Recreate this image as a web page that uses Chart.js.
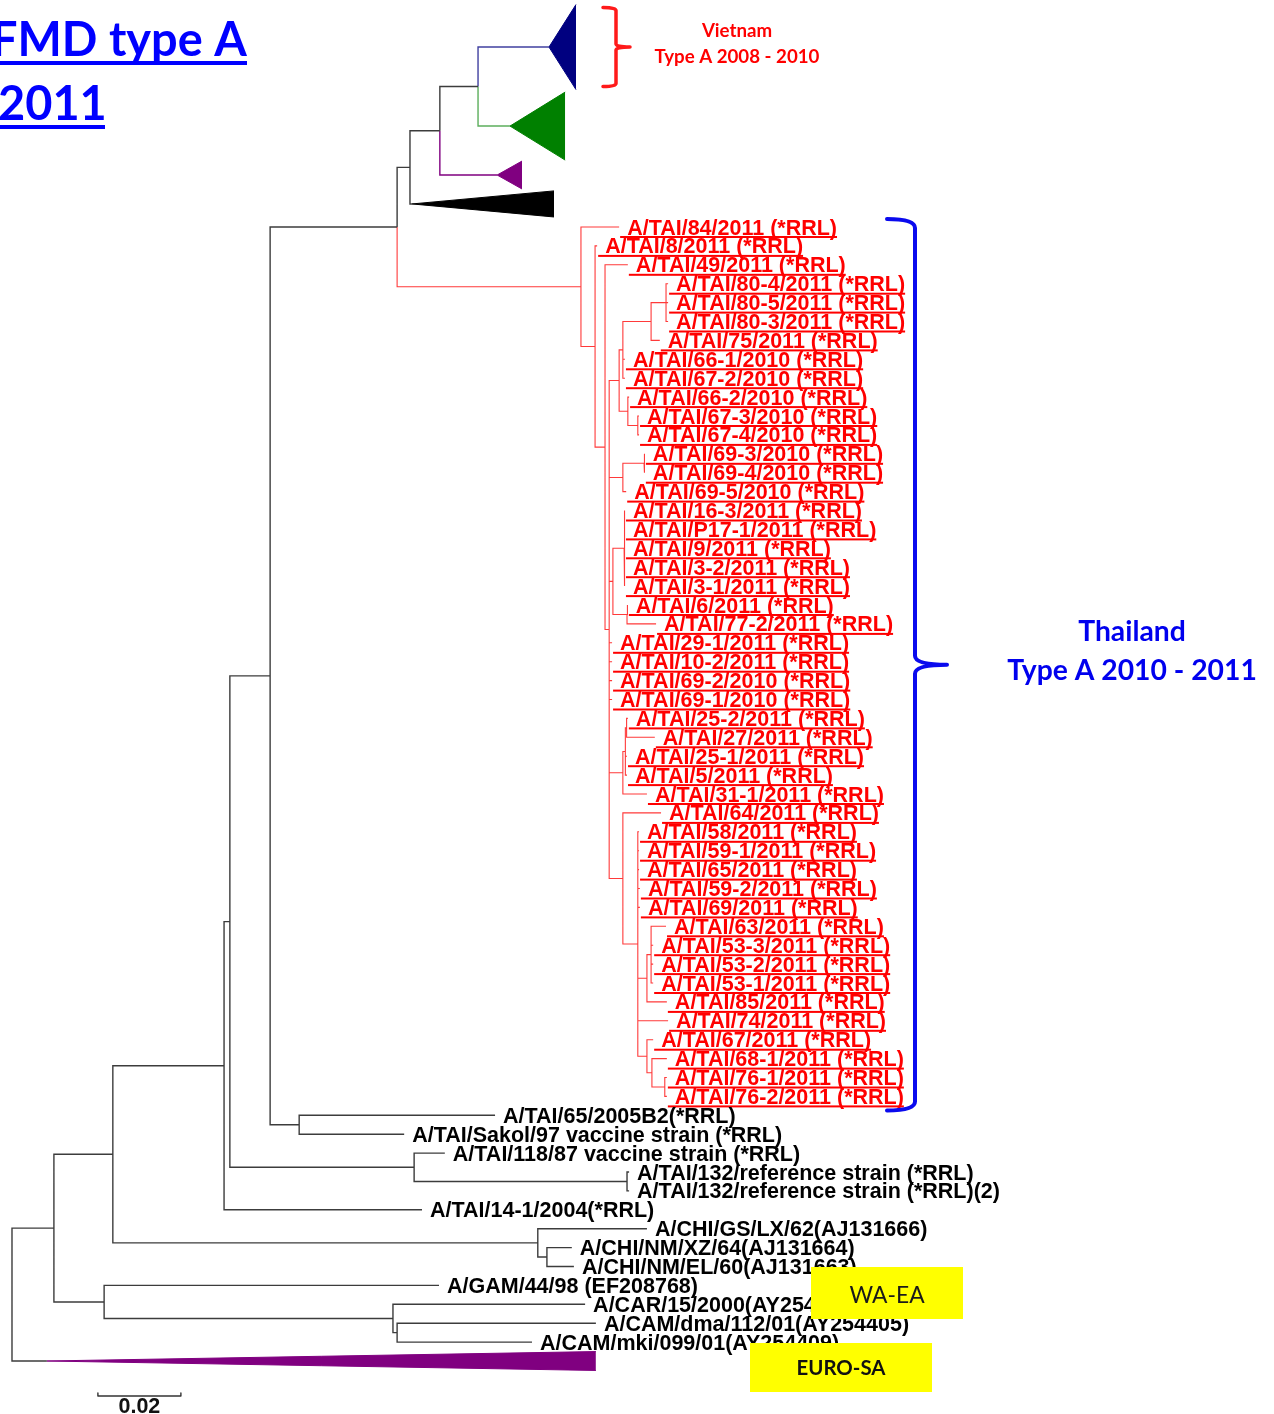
<!DOCTYPE html>
<html>
<head>
<meta charset="utf-8">
<script src="https://cdn.jsdelivr.net/npm/chart.js@4.4.1/dist/chart.umd.min.js"></script>
<style>
html,body{margin:0;padding:0;background:#fff;}
#quadro{width:1274px;height:1414px;position:relative;}
</style>
</head>
<body>
<div id="quadro"><canvas id="arvore"></canvas></div>
<script>
// taxa in the order they are drawn, top to bottom (row = index + 1)
const tipNames = [
'A/TAI/84/2011 (*RRL)','A/TAI/8/2011 (*RRL)','A/TAI/49/2011 (*RRL)','A/TAI/80-4/2011 (*RRL)',
'A/TAI/80-5/2011 (*RRL)','A/TAI/80-3/2011 (*RRL)','A/TAI/75/2011 (*RRL)','A/TAI/66-1/2010 (*RRL)',
'A/TAI/67-2/2010 (*RRL)','A/TAI/66-2/2010 (*RRL)','A/TAI/67-3/2010 (*RRL)','A/TAI/67-4/2010 (*RRL)',
'A/TAI/69-3/2010 (*RRL)','A/TAI/69-4/2010 (*RRL)','A/TAI/69-5/2010 (*RRL)','A/TAI/16-3/2011 (*RRL)',
'A/TAI/P17-1/2011 (*RRL)','A/TAI/9/2011 (*RRL)','A/TAI/3-2/2011 (*RRL)','A/TAI/3-1/2011 (*RRL)',
'A/TAI/6/2011 (*RRL)','A/TAI/77-2/2011 (*RRL)','A/TAI/29-1/2011 (*RRL)','A/TAI/10-2/2011 (*RRL)',
'A/TAI/69-2/2010 (*RRL)','A/TAI/69-1/2010 (*RRL)','A/TAI/25-2/2011 (*RRL)','A/TAI/27/2011 (*RRL)',
'A/TAI/25-1/2011 (*RRL)','A/TAI/5/2011 (*RRL)','A/TAI/31-1/2011 (*RRL)','A/TAI/64/2011 (*RRL)',
'A/TAI/58/2011 (*RRL)','A/TAI/59-1/2011 (*RRL)','A/TAI/65/2011 (*RRL)','A/TAI/59-2/2011 (*RRL)',
'A/TAI/69/2011 (*RRL)','A/TAI/63/2011 (*RRL)','A/TAI/53-3/2011 (*RRL)','A/TAI/53-2/2011 (*RRL)',
'A/TAI/53-1/2011 (*RRL)','A/TAI/85/2011 (*RRL)','A/TAI/74/2011 (*RRL)','A/TAI/67/2011 (*RRL)',
'A/TAI/68-1/2011 (*RRL)','A/TAI/76-1/2011 (*RRL)','A/TAI/76-2/2011 (*RRL)',
'A/TAI/65/2005B2(*RRL)','A/TAI/Sakol/97 vaccine strain (*RRL)','A/TAI/118/87 vaccine strain (*RRL)',
'A/TAI/132/reference strain (*RRL)','A/TAI/132/reference strain (*RRL)(2)','A/TAI/14-1/2004(*RRL)',
'A/CHI/GS/LX/62(AJ131666)','A/CHI/NM/XZ/64(AJ131664)','A/CHI/NM/EL/60(AJ131663)',
'A/GAM/44/98 (EF208768)','A/CAR/15/2000(AY254404)','A/CAM/dma/112/01(AY254405)','A/CAM/mki/099/01(AY254409)'
];

// distance from the root of each taxon (substitutions/site)
const tipDepth = [
0.1463,0.1410,0.1484,0.1581,0.1581,0.1581,0.1561,0.1477,
0.1477,0.1487,0.1511,0.1511,0.1525,0.1525,0.1480,0.1477,
0.1477,0.1477,0.1477,0.1477,0.1484,0.1552,0.1446,0.1446,
0.1446,0.1446,0.1484,0.1549,0.1482,0.1482,0.1530,0.1564,
0.1511,0.1511,0.1511,0.1513,0.1513,0.1576,0.1545,0.1545,
0.1545,0.1578,0.1581,0.1545,0.1578,0.1578,0.1578,
0.1164,0.0945,0.1043,0.1487,0.1487,0.0988,
0.1530,0.1349,0.1354,0.1029,0.1381,0.1407,0.1253
];

// collapsed clades (triangles)
const cladeIds   = ['cV','cG','cP','cK','cE'];
const cladeRow   = [-8.52,-4.34,-1.75,-0.22,61];
const cladeHalf  = [2.25,1.80,0.74,0.69,0.50];
const cladeStart = [0.1294,0.1200,0.1169,0.0964,0.0084];
const cladeEnd   = [0.1359,0.1333,0.1229,0.1306,0.1407];

// internal nodes: id, depth, children
const nodeIds = ['ROOT','B','C','N224','N230','N270','N397','N410','N440','N478',
'N299','N414','N628','CHI','CHI2','D','CAR','CAM',
'R0','R1','R2','R3','Na','Nb','Nd','Ne','Nc','Nf','Ng','Nh','N613','Ni','Nj',
'Nr','Nr1','Nr2','Ns','Nt','Nu','Nv','Nw','Nx','Ny'];
const nodeDepth = [0.0000,0.0101,0.0243,0.0511,0.0525,0.0622,0.0928,0.0959,0.1031,0.1123,
0.0692,0.0969,0.1482,0.1267,0.1289,0.0222,0.0918,0.0928,
0.1371,0.1405,0.1429,0.1439,0.1463,0.1472,0.1540,0.1576,0.1484,0.1508,0.1472,0.1523,0.1448,0.1475,0.1482,
0.1472,0.1478,0.1481,0.1472,0.1508,0.1530,0.1540,0.1530,0.1542,0.1573];
const nodeKids = [
['B','cE'],['C','D'],['N224','CHI'],['N230','t53'],['N270','N414'],['N397','N299'],
['N410','R0'],['N440','cK'],['N478','cP'],['cV','cG'],
['t48','t49'],['t50','N628'],['t51','t52'],['t54','CHI2'],['t55','t56'],
['t57','CAR'],['t58','CAM'],['t59','t60'],
['t1','R1'],['t2','R2'],['t3','R3'],
['Na','Ng','N613','t23','t24','t25','t26','Nr','Ns'],
['Nb','Nc'],['Nd','t8','t9'],['Ne','t7'],['t4','t5','t6'],['t10','Nf'],['t11','t12'],
['Nh','t15'],['t13','t14'],['Ni','Nj'],['t16','t17','t18','t19','t20'],['t21','t22'],
['Nr1','t31'],['Nr2','t29','t30'],['t27','t28'],
['t32','Nt'],['t33','t34','t35','t36','t37','Nu','t43','Nw'],
['Nv','t42'],['t38','t39','t40','t41'],['t44','Nx'],['t45','Ny'],['t46','t47']
];

const scaleBarLength = 0.02;

// ---- estilos
const vermelho = '#ff0000';
const corDe = {R0:'#ff3a3a', cV:'#4040a0', cG:'#5cae5c', cP:'#800080'};
const corPadrao = '#3c3c3c';
const corTriangulo = ['#000080','#008000','#800080','#000000','#800080'];
const fonteRotulo = 'bold 21.5px "Liberation Sans", Arial, sans-serif';

const tipo = id => /^t\d+$/.test(id) ? 'tip' : (/^c[A-Z]$/.test(id) ? 'clade' : 'node');

function linha(id){
  if(tipo(id)==='tip') return +id.slice(1);
  if(tipo(id)==='clade') return cladeRow[cladeIds.indexOf(id)];
  const k = nodeKids[nodeIds.indexOf(id)];
  return (linha(k[0]) + linha(k[k.length-1])) / 2;
}

function profundidade(id){
  if(tipo(id)==='tip') return tipDepth[+id.slice(1)-1];
  if(tipo(id)==='clade') return cladeStart[cladeIds.indexOf(id)];
  return nodeDepth[nodeIds.indexOf(id)];
}

const ramos = {};
const corTip = [];

function percorre(id, cor){
  const xP = profundidade(id);
  const yP = linha(id);
  nodeKids[nodeIds.indexOf(id)].forEach(k => {
    const c = corDe[k] || cor;
    const yK = linha(k), xK = profundidade(k);
    (ramos[c] = ramos[c] || []).push(
      {x:xP, y:yP}, {x:xP, y:yK}, {x:xK, y:yK}, {x:xK, y:null}
    );
    if(tipo(k)==='node') percorre(k, c);
    if(tipo(k)==='tip') corTip[+k.slice(1)-1] = c;
  });
}
percorre('ROOT', corPadrao);

const datasets = [];

Object.keys(ramos).forEach(c => {
  datasets.push({
    data: ramos[c],
    borderColor: c,
    borderWidth: c===corDe.R0 ? 1.1 : 1.4,
    showLine: true,
    spanGaps: false,
    pointRadius: 0,
    fill: false
  });
});

cladeIds.forEach((id, i) => {
  datasets.push({
    data: [{x:cladeStart[i], y:cladeRow[i]}, {x:cladeEnd[i], y:cladeRow[i]-cladeHalf[i]}],
    borderColor: corTriangulo[i], borderWidth: 1,
    showLine: true, pointRadius: 0, fill: false
  });
  datasets.push({
    data: [{x:cladeStart[i], y:cladeRow[i]}, {x:cladeEnd[i], y:cladeRow[i]+cladeHalf[i]}],
    borderColor: corTriangulo[i], borderWidth: 1, backgroundColor: corTriangulo[i],
    showLine: true, pointRadius: 0, fill: '-1'
  });
});

function ajusta(ctx, texto, peso, familia, largura){
  ctx.font = peso + ' 100px ' + familia;
  return 100 * largura / ctx.measureText(texto).width;
}

function chave(ctx, x, topo, base, braco, bico, r, cor, larg){
  const meio = (topo + base) / 2;
  ctx.beginPath();
  ctx.moveTo(x - braco, topo);
  ctx.quadraticCurveTo(x, topo, x, topo + r);
  ctx.lineTo(x, meio - r);
  ctx.quadraticCurveTo(x, meio, x + bico, meio);
  ctx.quadraticCurveTo(x, meio, x, meio + r);
  ctx.lineTo(x, base - r);
  ctx.quadraticCurveTo(x, base, x - braco, base);
  ctx.strokeStyle = cor;
  ctx.lineWidth = larg;
  ctx.lineCap = 'round';
  ctx.lineJoin = 'round';
  ctx.stroke();
}

function textoCentro(ctx, texto, cx, y, peso, familia, largura, cor){
  const tam = ajusta(ctx, texto, peso, familia, largura);
  ctx.font = peso + ' ' + tam.toFixed(1) + 'px ' + familia;
  ctx.fillStyle = cor;
  ctx.textAlign = 'center';
  ctx.fillText(texto, cx, y);
  return tam;
}

const rotulos = {
  id: 'rotulos',
  afterDatasetsDraw(chart){
    const {ctx, scales:{x, y}} = chart;
    ctx.save();
    ctx.textBaseline = 'alphabetic';
    ctx.textAlign = 'left';
    ctx.font = fonteRotulo;

    tipNames.forEach((nome, i) => {
      const px = x.getPixelForValue(tipDepth[i]);
      const py = y.getPixelForValue(i + 1);
      const red = corTip[i] === corDe.R0;
      ctx.fillStyle = red ? vermelho : '#000';
      ctx.fillText(nome, px + 8, py + 7.5);
      if(red){
        const w = ctx.measureText(nome).width;
        ctx.fillRect(px + 1, py + 9, w + 7, 2);
      }
    });

    // chaves
    const topoTH = y.getPixelForValue(1) - 8;
    const baseTH = y.getPixelForValue(47) + 14;
    chave(ctx, 915, topoTH, baseTH, 28, 32, 9, '#0a0aee', 4);
    const iv = cladeIds.indexOf('cV');
    const topoVN = y.getPixelForValue(cladeRow[iv] - cladeHalf[iv]) + 3;
    const baseVN = y.getPixelForValue(cladeRow[iv] + cladeHalf[iv]) - 3;
    chave(ctx, 616, topoVN, baseVN, 13, 14, 3, '#ff1a1a', 3.5);

    ctx.textBaseline = 'alphabetic';
    const fam = 'Lato, "Open Sans", sans-serif';
    // Vietnam
    const tv = textoCentro(ctx, 'Type A 2008 - 2010', 737, 63, 'bold', fam, 165, vermelho);
    ctx.font = 'bold ' + tv.toFixed(1) + 'px ' + fam;
    ctx.fillText('Vietnam', 737, 37);
    // Thailand
    const tt = textoCentro(ctx, 'Type A 2010 - 2011', 1132, 680, 'bold', fam, 250, '#0000ee');
    ctx.font = 'bold ' + tt.toFixed(1) + 'px ' + fam;
    ctx.fillText('Thailand', 1132, 641);

    // titulo
    const tamT = ajusta(ctx, 'FMD type A', 'bold', fam, 256);
    ctx.font = 'bold ' + tamT.toFixed(1) + 'px ' + fam;
    ctx.textAlign = 'left';
    ctx.fillStyle = '#0000ff';
    ctx.fillText('FMD type A', -9, 56);
    ctx.fillText('2011', -2, 120);
    ctx.fillRect(0, 61, 247, 4);
    ctx.fillRect(0, 125, 105, 4);

    // caixas amarelas
    ctx.fillStyle = '#ffff00';
    ctx.fillRect(811, 1267, 152, 52);
    ctx.fillRect(750, 1343, 182, 49);
    textoCentro(ctx, 'WA-EA', 887, 1303, 'normal', fam, 75, '#1a1a1a');
    textoCentro(ctx, 'EURO-SA', 841, 1375, 'bold', fam, 89, '#111');

    // barra de escala
    const x0 = x.getPixelForValue(0.0207);
    const x1 = x.getPixelForValue(0.0207 + scaleBarLength);
    const yb = y.getPixelForValue(62.85);
    ctx.strokeStyle = '#333';
    ctx.lineWidth = 1.4;
    ctx.beginPath();
    ctx.moveTo(x0, yb - 3); ctx.lineTo(x0, yb); ctx.lineTo(x1, yb); ctx.lineTo(x1, yb - 3);
    ctx.stroke();
    ctx.font = fonteRotulo;
    ctx.fillStyle = '#111';
    ctx.textAlign = 'center';
    ctx.fillText(String(scaleBarLength), (x0 + x1) / 2, yb + 17);
    ctx.restore();
  }
};

new Chart(document.getElementById('arvore'), {
  type: 'scatter',
  data: {datasets: datasets},
  options: {
    responsive: true,
    maintainAspectRatio: false,
    animation: false,
    events: [],
    layout: {padding: 0},
    plugins: {legend: {display: false}, tooltip: {enabled: false}},
    scales: {
      x: {type: 'linear', min: -0.00289, max: 0.30410, display: false},
      y: {type: 'linear', min: -11.0106, max: 63.804, reverse: true, display: false}
    }
  },
  plugins: [rotulos]
});
</script>
</body>
</html>
